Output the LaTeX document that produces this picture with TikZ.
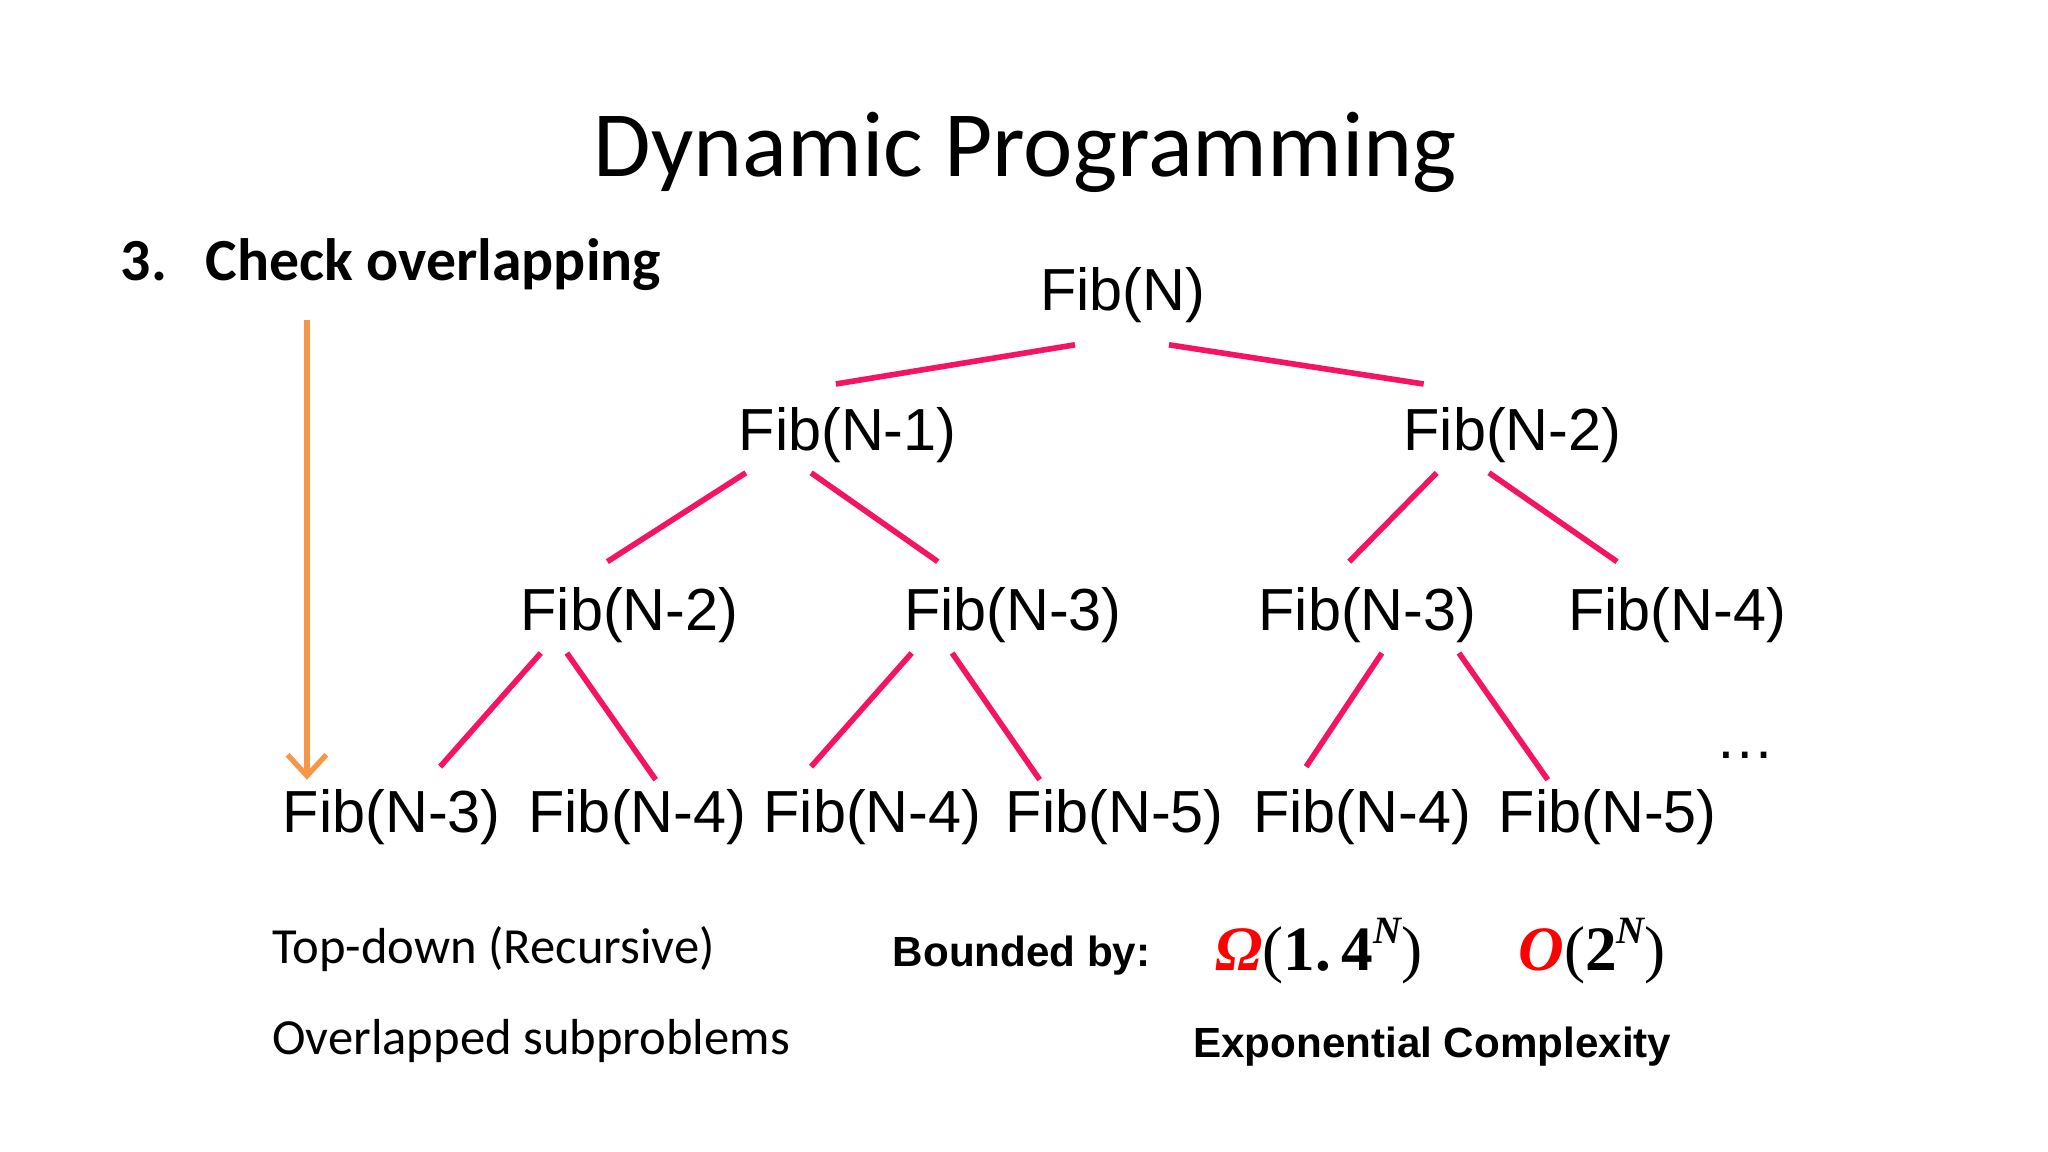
\documentclass[tikz,border=0pt]{standalone}
\usepackage{fontspec}
\setmainfont{Carlito}
\newfontfamily\arialf{Liberation Sans}
\newfontfamily\serf{Liberation Serif}
\usetikzlibrary{arrows.meta}
\definecolor{edgepink}{RGB}{245,20,100}
\definecolor{arroworange}{RGB}{247,150,70}
\definecolor{mred}{RGB}{255,0,0}
\newcommand{\supN}{\raisebox{0.42em}{\fontsize{11}{11}\selectfont\bfseries\itshape N}}
\begin{document}
\begin{tikzpicture}[x=0.013062cm,y=-0.013062cm,
  fib/.style={font=\arialf\fontsize{16.9}{20}\selectfont, inner sep=0pt, anchor=base},
  titletext/.style={font=\fontsize{26.6}{30}\selectfont, inner sep=0pt, anchor=base},
  headtext/.style={font=\bfseries\fontsize{17}{20}\selectfont, inner sep=0pt, anchor=base west},
  bodytext/.style={font=\fontsize{14.4}{17}\selectfont, inner sep=0pt, anchor=base west},
  boldsans/.style={font=\arialf\bfseries\fontsize{12}{14}\selectfont, inner sep=0pt, anchor=base west},
  mathtext/.style={font=\serf\fontsize{18}{20}\selectfont, inner sep=0pt, anchor=base west},
  edge/.style={draw=edgepink, line width=1.6pt},
  flow/.style={draw=arroworange, line width=1.5pt, -{Straight Barb[length=6pt,width=11pt,line width=1.5pt]}}]
\useasboundingbox (0cm,0cm) rectangle (20.48cm,-11.52cm);

% title and headings
\node[titletext] (title) at (785,135) {Dynamic Programming};
\node[headtext] (num) at (92,215) {3.};
\node[headtext] (head) at (157,215) {Check overlapping};

% tree nodes
\node[fib] (n0) at (859.5,238) {Fib(N)};
\node[fib] (n1) at (649,345) {Fib(N-1)};
\node[fib] (n2) at (1158,345) {Fib(N-2)};
\node[fib] (m1) at (482,483) {Fib(N-2)};
\node[fib] (m2) at (775.5,483) {Fib(N-3)};
\node[fib] (m3) at (1047,483) {Fib(N-3)};
\node[fib] (m4) at (1284,483) {Fib(N-4)};
\node[fib] (b1) at (300,637) {Fib(N-3)};
\node[fib] (b2) at (488,637) {Fib(N-4)};
\node[fib] (b3) at (668,637) {Fib(N-4)};
\node[fib] (b4) at (853.5,637) {Fib(N-5)};
\node[fib] (b5) at (1043,637) {Fib(N-4)};
\node[fib] (b6) at (1231,637) {Fib(N-5)};
\node[fib] (dots) at (1336.5,581) {\dots};

% edge end points
\coordinate (e1a) at (823,264); \coordinate (e1b) at (640,294);
\coordinate (e2a) at (895,264); \coordinate (e2b) at (1090,294);
\coordinate (e3a) at (571,362); \coordinate (e3b) at (465,430);
\coordinate (e4a) at (621,362); \coordinate (e4b) at (718,430);
\coordinate (e5a) at (1100,362); \coordinate (e5b) at (1033,430);
\coordinate (e6a) at (1140,362); \coordinate (e6b) at (1238,430);
\coordinate (e7a) at (414,500); \coordinate (e7b) at (337,587);
\coordinate (e8a) at (434,500); \coordinate (e8b) at (502,597);
\coordinate (e9a) at (698,500); \coordinate (e9b) at (621,587);
\coordinate (e10a) at (729,500); \coordinate (e10b) at (796,597);
\coordinate (e11a) at (1058,500); \coordinate (e11b) at (1000,587);
\coordinate (e12a) at (1117,500); \coordinate (e12b) at (1185,597);

\foreach \e in {1,...,12} { \draw[edge] (e\e a) -- (e\e b); }

% orange arrow
\coordinate (arrtop) at (235,245);
\coordinate (arrbot) at (235,597);
\draw[flow] (arrtop) -- (arrbot);

% bottom texts
\node[bodytext] (td) at (208,738) {Top-down (Recursive)};
\node[bodytext] (ov) at (208,807) {Overlapped subproblems};
\node[boldsans] (bd) at (683,740) {Bounded by:};
\node[mathtext] (om) at (930,743) {{\color{mred}\bfseries\itshape Ω}(\textbf{1.\,4}\supN)};
\node[mathtext] (bo) at (1162,743) {{\color{mred}\bfseries\itshape O}(\textbf{2}\supN)};
\node[boldsans] (ec) at (913,810) {Exponential Complexity};
\end{tikzpicture}
\end{document}
